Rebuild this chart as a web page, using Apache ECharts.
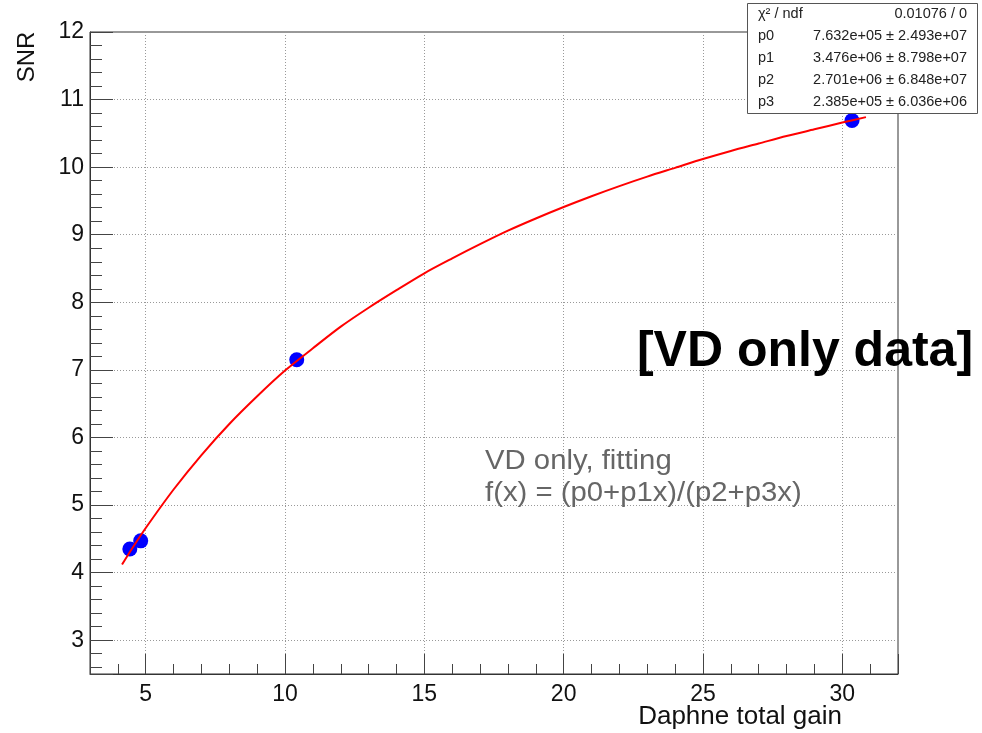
<!DOCTYPE html>
<html>
<head>
<meta charset="utf-8">
<script src="https://cdn.jsdelivr.net/npm/echarts@6/dist/echarts.min.js"></script>
<style>
html,body{margin:0;padding:0;background:#fff;}
#c{width:982px;height:733px;}
</style>
</head>
<body>
<div id="c"></div>
<script>
// Measured points
var gainX = [4.43, 4.82, 10.42, 30.35];
var snrY = [4.35, 4.47, 7.15, 10.69];
// Fit curve
var fitX = [4.15, 4.5, 5, 6, 7, 8, 9, 10, 11, 12, 13, 14, 15, 16, 17, 18, 19, 20, 21, 22, 23, 24, 25, 26, 27, 28, 29, 30, 30.85];
var fitY = [4.12, 4.35, 4.66, 5.23, 5.74, 6.20, 6.61, 6.99, 7.32, 7.64, 7.92, 8.18, 8.43, 8.65, 8.86, 9.06, 9.24, 9.41, 9.57, 9.72, 9.86, 9.99, 10.12, 10.24, 10.35, 10.46, 10.56, 10.66, 10.74];
// Stats box
var statNames = ['\u03c7\u00b2 / ndf', 'p0', 'p1', 'p2', 'p3'];
var statValues = ['0.01076 / 0', '7.632e+05 \u00b1 2.493e+07', '3.476e+06 \u00b1 8.798e+07', '2.701e+06 \u00b1 6.848e+07', '2.385e+05 \u00b1 6.036e+06'];

var FONT = 'Liberation Sans, Arial, Helvetica, sans-serif';
var chart = echarts.init(document.getElementById('c'), null, {renderer: 'canvas'});

var pts = gainX.map(function (x, i) { return [x, snrY[i]]; });
var fit = fitX.map(function (x, i) { return [x, fitY[i]]; });

var statGraphics = [{
  type: 'rect', shape: {x: 747.5, y: 3.5, width: 230, height: 110},
  style: {fill: '#fff', stroke: '#555', lineWidth: 1}, z: 100
}];
statNames.forEach(function (n, i) {
  var yy = 14 + i * 22;
  statGraphics.push({type: 'text', x: 758, y: yy, z: 101,
    style: {text: n, fill: '#222', font: '14.5px ' + FONT, textAlign: 'left', textVerticalAlign: 'middle'}});
  statGraphics.push({type: 'text', x: 967, y: yy, z: 101,
    style: {text: statValues[i], fill: '#222', font: '14.5px ' + FONT, textAlign: 'right', textVerticalAlign: 'middle'}});
});

var option = {
  animation: false,
  backgroundColor: '#fff',
  grid: {left: 90, right: 84, top: 32, bottom: 59, show: true, borderColor: '#333', borderWidth: 1, backgroundColor: 'transparent'},
  xAxis: {
    type: 'value', min: 3, max: 32, splitNumber: 6,
    axisLine: {show: true, lineStyle: {color: '#333', width: 1}},
    axisTick: {show: true, inside: true, length: 20, lineStyle: {color: '#444', width: 1}},
    minorTick: {show: true, splitNumber: 5, length: 10, lineStyle: {color: '#444', width: 1}},
    splitLine: {show: true, lineStyle: {color: '#999', type: [1, 2], width: 1}},
    axisLabel: {color: '#111', fontSize: 23, fontFamily: FONT, margin: 9,
      formatter: function (v) { return (Math.abs(v % 5) < 1e-9) ? String(v) : ''; }}
  },
  yAxis: {
    type: 'value', min: 2.5, max: 12, splitNumber: 10,
    axisLine: {show: true, lineStyle: {color: '#333', width: 1}},
    axisTick: {show: true, inside: true, length: 23, lineStyle: {color: '#444', width: 1}},
    minorTick: {show: true, splitNumber: 5, length: 12, lineStyle: {color: '#444', width: 1}},
    splitLine: {show: true, lineStyle: {color: '#999', type: [1, 2], width: 1}},
    axisLabel: {color: '#111', fontSize: 23, fontFamily: FONT, margin: 6,
      formatter: function (v) { return (Math.abs(v % 1) < 1e-9) ? String(v) : ''; }}
  },
  series: [
    {type: 'scatter', data: pts, symbol: 'circle', symbolSize: 15, itemStyle: {color: '#0000ff', opacity: 1}, z: 2},
    {type: 'line', data: fit, smooth: 0.3, showSymbol: false, symbol: 'none',
      lineStyle: {color: '#ff0000', width: 2}, z: 3}
  ],
  graphic: [
    {type: 'text', x: 27, y: 57, rotation: Math.PI / 2,
      style: {text: 'SNR', fill: '#111', font: '24px ' + FONT, textAlign: 'center', textVerticalAlign: 'middle'}},
    {type: 'text', x: 842, y: 717,
      style: {text: 'Daphne total gain', fill: '#111', font: '26px ' + FONT, textAlign: 'right', textVerticalAlign: 'middle'}},
    {type: 'text', x: 805, y: 352, z: 50,
      style: {text: '[VD only data]', fill: '#000', font: 'bold 50px ' + FONT, textAlign: 'center', textVerticalAlign: 'middle'}},
    {type: 'text', x: 485, y: 462, z: 50, scaleX: 1.085,
      style: {text: 'VD only, fitting', fill: '#666', font: '27px ' + FONT, textAlign: 'left', textVerticalAlign: 'middle'}},
    {type: 'text', x: 485, y: 494, z: 50, scaleX: 1.085,
      style: {text: 'f(x) = (p0+p1x)/(p2+p3x)', fill: '#666', font: '27px ' + FONT, textAlign: 'left', textVerticalAlign: 'middle'}}
  ].concat(statGraphics)
};
chart.setOption(option);
</script>
</body>
</html>
